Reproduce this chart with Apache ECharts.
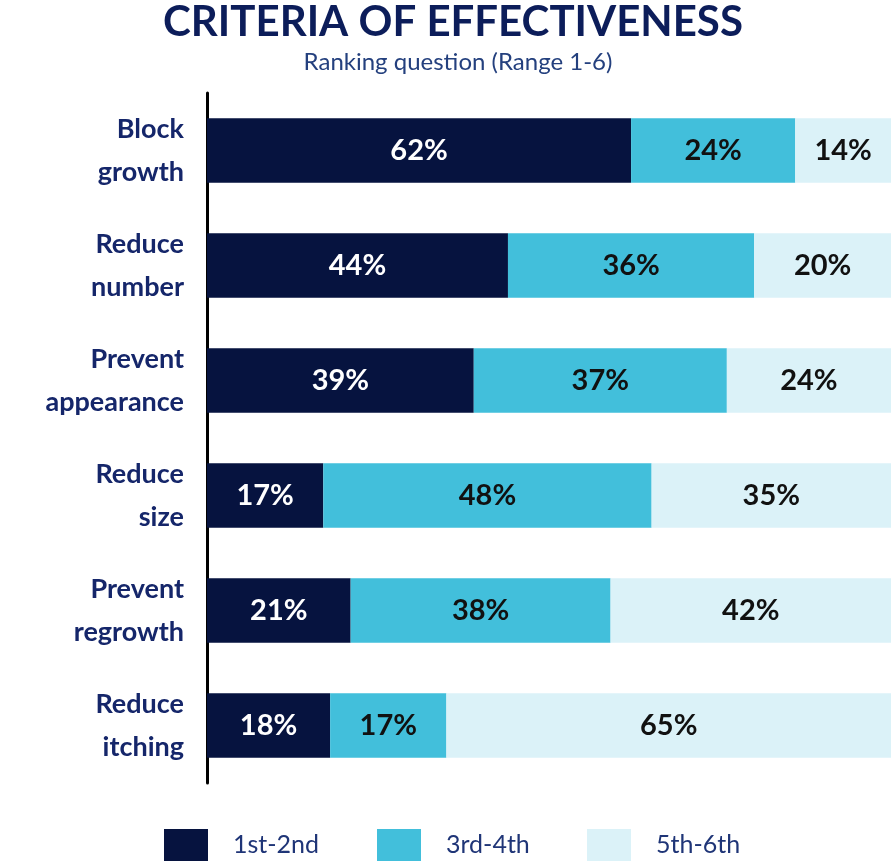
<!DOCTYPE html>
<html>
<head>
<meta charset="utf-8">
<script src="https://cdn.jsdelivr.net/npm/echarts@6/dist/echarts.min.js"></script>
<style>
html,body{margin:0;padding:0;background:#fff;}
#c{width:894px;height:865px;}
</style>
</head>
<body>
<div id="c"></div>
<script>
const categories = ['Block\ngrowth', 'Reduce\nnumber', 'Prevent\nappearance', 'Reduce\nsize', 'Prevent\nregrowth', 'Reduce\nitching'];
const seriesNames = ['1st-2nd', '3rd-4th', '5th-6th'];
const rank12 = [62, 44, 39, 17, 21, 18];
const rank34 = [24, 36, 37, 48, 38, 17];
const rank56 = [14, 20, 24, 35, 42, 65];

const colors = ['#06133f', '#42bfdb', '#dbf2f8'];
const labelColors = ['#ffffff', '#111111', '#111111'];
const FONT = 'Lato';

const chart = echarts.init(document.getElementById('c'), null, {renderer: 'canvas'});
const dataSets = [rank12, rank34, rank56];

const series = seriesNames.map((name, i) => ({
  name: name,
  type: 'bar',
  stack: 'total',
  barCategoryGap: '44%',
  data: dataSets[i],
  itemStyle: {color: colors[i]},
  label: {
    show: true,
    position: 'inside',
    formatter: '{c}%',
    color: labelColors[i],
    fontFamily: FONT,
    fontWeight: 'bold',
    fontSize: 29
  }
}));

const legendLefts = [164, 377, 587];

chart.setOption({
  animation: false,
  backgroundColor: '#ffffff',
  title: [
    {
      text: 'CRITERIA OF EFFECTIVENESS',
      left: 453,
      top: 1,
      padding: 0,
      textAlign: 'center',
      textStyle: {fontFamily: FONT, fontWeight: 'bold', fontSize: 42, color: '#0c1d5a'}
    },
    {
      text: 'Ranking question (Range 1-6)',
      left: 458,
      top: 50,
      padding: 0,
      textAlign: 'center',
      textStyle: {fontFamily: FONT, fontWeight: 'normal', fontSize: 24, color: '#24407e'}
    }
  ],
  legend: seriesNames.map((n, i) => ({
    data: [n],
    left: legendLefts[i],
    top: 829,
    padding: 0,
    itemWidth: 44,
    itemHeight: 32,
    icon: 'rect',
    selectedMode: false,
    textStyle: {fontFamily: FONT, fontSize: 25, color: '#1f3577', padding: [0, 0, 0, 20]}
  })),
  grid: {left: 207, right: 3, top: 93, bottom: 82, containLabel: false},
  xAxis: {
    type: 'value',
    min: 0,
    max: 100,
    show: false
  },
  yAxis: {
    type: 'category',
    data: categories,
    inverse: true,
    axisLine: {show: true, lineStyle: {color: '#000000', width: 3}},
    axisTick: {show: false},
    axisLabel: {
      margin: 23,
      fontFamily: FONT,
      fontWeight: 'bold',
      fontSize: 27,
      lineHeight: 43,
      color: '#15266a',
      align: 'right'
    }
  },
  series: series
});
</script>
</body>
</html>
